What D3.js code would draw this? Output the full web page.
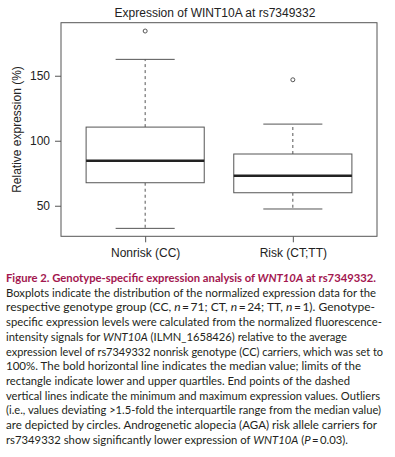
<!DOCTYPE html>
<html>
<head>
<meta charset="utf-8">
<script src="https://cdn.jsdelivr.net/npm/d3@7"></script>
<style>
  body { margin: 0; background: #fff; }
  svg { display: block; }
</style>
</head>
<body>
<svg id="chart" width="395" height="457"></svg>
<script>
// groups and five-number summaries
const groups = ["Nonrisk (CC)", "Risk (CT;TT)"];
const lowerWhisker = [32.6, 47.5];
const lowerQuartile = [67.7, 60.0];
const median = [84.6, 73.1];
const upperQuartile = [110.5, 89.8];
const upperWhisker = [162.6, 112.8];
const outliers = [[184.4], [146.9]];
const yTicks = [50, 100, 150];

const caption = [
  "Boxplots indicate the distribution of the normalized expression data for the",
  "respective genotype group (CC, <i>n</i>\u2009=\u200971; CT, <i>n</i>\u2009=\u200924; TT, <i>n</i>\u2009=\u20091). Genotype-",
  "specific expression levels were calculated from the normalized fluorescence-",
  "intensity signals for <i>WNT10A</i> (ILMN_1658426) relative to the average",
  "expression level of rs7349332 nonrisk genotype (CC) carriers, which was set to",
  "100%. The bold horizontal line indicates the median value; limits of the",
  "rectangle indicate lower and upper quartiles. End points of the dashed",
  "vertical lines indicate the minimum and maximum expression values. Outliers",
  "(i.e., values deviating >1.5-fold the interquartile range from the median value)",
  "are depicted by circles. Androgenetic alopecia (AGA) risk allele carriers for",
  "rs7349332 show significantly lower expression of <i>WNT10A</i> (<i>P</i>\u2009=\u20090.03)."
];
// right edge of each caption line in the reference
const captionEnds = [376, 375, 382, 347, 383, 361, 350, 380, 381, 377, 348];

const data = groups.map((g, i) => ({
  group: g,
  lo: lowerWhisker[i],
  q1: lowerQuartile[i],
  med: median[i],
  q3: upperQuartile[i],
  hi: upperWhisker[i],
  out: outliers[i]
}));

const svg = d3.select("#chart");
const plot = { left: 61, right: 377, top: 22.7, bottom: 236.3 };
const lineColor = "#555";

const x = d3.scalePoint()
  .domain(groups)
  .range([plot.left, plot.right])
  .padding(0.57);

const y = d3.scaleLinear()
  .domain([26.5, 190.8])
  .range([plot.bottom, plot.top]);

const step = x.step();
const boxW = step * 0.8;
const capW = step * 0.4;

// title
svg.append("text")
  .attr("x", 215)
  .attr("y", 16.5)
  .attr("text-anchor", "middle")
  .attr("font-family", "Liberation Sans, Arial, sans-serif")
  .attr("font-size", "12px")
  .attr("fill", "#222")
  .text("Expression of WINT10A at rs7349332");

// axes
const yAxis = svg.append("g")
  .attr("transform", `translate(${plot.left},0)`)
  .call(d3.axisLeft(y).tickValues(yTicks).tickSize(6).tickPadding(5));
yAxis.select(".domain").remove();

const xAxis = svg.append("g")
  .attr("transform", `translate(0,${plot.bottom})`)
  .call(d3.axisBottom(x).tickSize(6).tickPadding(6));
xAxis.select(".domain").remove();

svg.selectAll(".tick line").attr("stroke", lineColor);
svg.selectAll(".tick text")
  .attr("font-family", "Liberation Sans, Arial, sans-serif")
  .attr("font-size", "12px")
  .attr("fill", "#222");

// frame
svg.append("rect")
  .attr("x", plot.left)
  .attr("y", plot.top)
  .attr("width", plot.right - plot.left)
  .attr("height", plot.bottom - plot.top)
  .attr("fill", "none")
  .attr("stroke", lineColor)
  .attr("stroke-width", 1);

// y label
svg.append("text")
  .attr("transform", `translate(17,${(plot.top + plot.bottom) / 2}) rotate(-90)`)
  .attr("text-anchor", "middle")
  .attr("dy", "0.35em")
  .attr("font-family", "Liberation Sans, Arial, sans-serif")
  .attr("font-size", "12px")
  .attr("fill", "#222")
  .text("Relative expression (%)");

// boxes
const box = svg.selectAll(".box")
  .data(data)
  .enter()
  .append("g")
  .attr("class", "box");

box.append("line")
  .attr("x1", d => x(d.group)).attr("x2", d => x(d.group))
  .attr("y1", d => y(d.q3)).attr("y2", d => y(d.hi))
  .attr("stroke", lineColor).attr("stroke-dasharray", "3,3");

box.append("line")
  .attr("x1", d => x(d.group)).attr("x2", d => x(d.group))
  .attr("y1", d => y(d.q1)).attr("y2", d => y(d.lo))
  .attr("stroke", lineColor).attr("stroke-dasharray", "3,3");

box.selectAll(".cap")
  .data(d => [d.lo, d.hi].map(v => ({ group: d.group, v })))
  .enter()
  .append("line")
  .attr("x1", d => x(d.group) - capW / 2)
  .attr("x2", d => x(d.group) + capW / 2)
  .attr("y1", d => y(d.v)).attr("y2", d => y(d.v))
  .attr("stroke", lineColor);

box.append("rect")
  .attr("x", d => x(d.group) - boxW / 2)
  .attr("y", d => y(d.q3))
  .attr("width", boxW)
  .attr("height", d => y(d.q1) - y(d.q3))
  .attr("fill", "#fff")
  .attr("stroke", lineColor);

box.append("line")
  .attr("x1", d => x(d.group) - boxW / 2)
  .attr("x2", d => x(d.group) + boxW / 2)
  .attr("y1", d => y(d.med)).attr("y2", d => y(d.med))
  .attr("stroke", "#222").attr("stroke-width", 2.6);

box.selectAll("circle")
  .data(d => d.out.map(v => ({ group: d.group, v })))
  .enter()
  .append("circle")
  .attr("cx", d => x(d.group))
  .attr("cy", d => y(d.v))
  .attr("r", 2)
  .attr("fill", "none")
  .attr("stroke", lineColor);

// caption
const capFont = "Lato, 'Open Sans', sans-serif";
const lineGap = 14.7;
const heading = svg.append("text")
  .attr("x", 6)
  .attr("y", 282)
  .attr("font-family", capFont)
  .attr("font-size", "11.5px")
  .attr("font-weight", "bold")
  .attr("fill", "#a3174f")
  .attr("textLength", 370)
  .attr("lengthAdjust", "spacingAndGlyphs");
heading.append("tspan").text("Figure 2. Genotype-specific expression analysis of ");
heading.append("tspan").attr("font-style", "italic").text("WNT10A");
heading.append("tspan").text(" at rs7349332.");

caption.forEach((line, i) => {
  const t = svg.append("text")
    .attr("x", 6)
    .attr("y", 282 + (i + 1) * lineGap)
    .attr("font-family", capFont)
    .attr("font-size", "11.5px")
    .attr("fill", "#231f20")
    .attr("textLength", captionEnds[i] - 6)
    .attr("lengthAdjust", "spacingAndGlyphs");
  line.split(/(<i>.*?<\/i>)/).forEach(part => {
    if (!part) return;
    const it = part.startsWith("<i>");
    t.append("tspan")
      .attr("font-style", it ? "italic" : null)
      .text(it ? part.slice(3, -4) : part);
  });
});
</script>
</body>
</html>
